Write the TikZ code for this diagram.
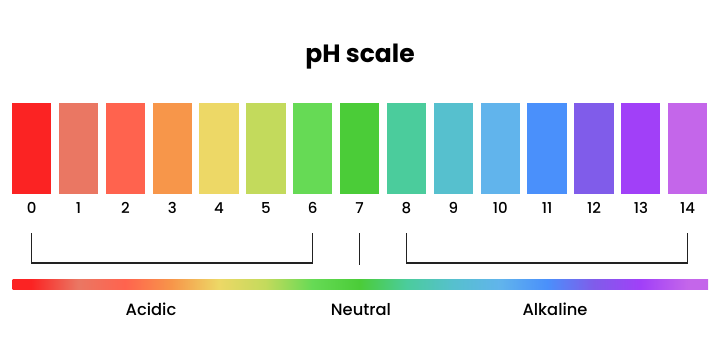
\documentclass[tikz,border=0pt]{standalone}
\usepackage{fontspec}
\setmainfont{Poppins}
\newfontfamily\phmedium{Poppins Medium}
\usepackage{xcolor}
\usetikzlibrary{positioning,calc}
\definecolor{ph0}{HTML}{FB2323}
\definecolor{ph1}{HTML}{EA7763}
\definecolor{ph2}{HTML}{FF634E}
\definecolor{ph3}{HTML}{F7964A}
\definecolor{ph4}{HTML}{EDD866}
\definecolor{ph5}{HTML}{C3DA5C}
\definecolor{ph6}{HTML}{66DA55}
\definecolor{ph7}{HTML}{4BCC38}
\definecolor{ph8}{HTML}{4BCC9C}
\definecolor{ph9}{HTML}{56C0CE}
\definecolor{ph10}{HTML}{61B4EC}
\definecolor{ph11}{HTML}{4A90FB}
\definecolor{ph12}{HTML}{805CEA}
\definecolor{ph13}{HTML}{A140F8}
\definecolor{ph14}{HTML}{C466EA}
\definecolor{bracketline}{HTML}{222222}
\pgfdeclarehorizontalshading{phbar}{100bp}{%
  color(0bp)=(ph0); color(26.34bp)=(ph0); color(29.71bp)=(ph1);
  color(33.08bp)=(ph2); color(36.45bp)=(ph3); color(39.82bp)=(ph4);
  color(43.20bp)=(ph5); color(46.57bp)=(ph6); color(49.94bp)=(ph7);
  color(53.31bp)=(ph8); color(56.68bp)=(ph9); color(60.05bp)=(ph10);
  color(63.42bp)=(ph11); color(66.79bp)=(ph12); color(70.16bp)=(ph13);
  color(73.54bp)=(ph14); color(100bp)=(ph14)}

\begin{document}
\begin{tikzpicture}[
    x=1pt, y=-1pt,
    phbox/.style={minimum width=39.3pt, minimum height=91.3pt, inner sep=0pt},
    phnum/.style={font=\phmedium\fontsize{15}{17}\selectfont, inner sep=0pt},
    phlabel/.style={font=\phmedium\fontsize{16.3}{19}\selectfont, inner sep=0pt},
    bracket/.style={draw=bracketline, line width=1.1pt},
]

% Frame
\useasboundingbox (0,0) rectangle (720,360);

% Title
\node[font=\fontsize{25}{29}\selectfont\bfseries] (title) at (360,57) {pH scale};

% Colour boxes and numbers
\foreach \i in {0,...,14}{
    \node[phbox, fill=ph\i] (b\i) at ({31.65+46.86*\i},148.4) {};
    \node[phnum] (n\i) at ({31.65+46.86*\i},208) {\i};
}

% Brackets
\coordinate (top) at (0,233);
\coordinate (bot) at (0,263);
\coordinate (midbot) at (0,265);
\draw[bracket] (n0 |- top) -- (n0 |- bot) -- (n6 |- bot) -- (n6 |- top);
\draw[bracket] (n7 |- top) -- (n7 |- midbot);
\draw[bracket] (n8 |- top) -- (n8 |- bot) -- (n14 |- bot) -- (n14 |- top);

% Gradient bar
\shade[shading=phbar] (12.5,279) rectangle (708,289.5);

% Labels
\node[phlabel] (acidic) at (151,309.5) {Acidic};
\node[phlabel] (neutral) at (361,309.5) {Neutral};
\node[phlabel] (alkaline) at (555,309.5) {Alkaline};

\end{tikzpicture}
\end{document}
